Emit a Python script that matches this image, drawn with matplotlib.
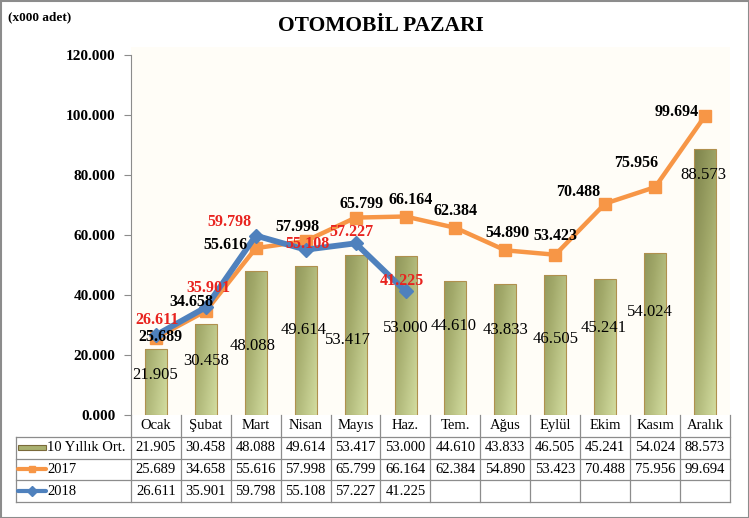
import matplotlib
matplotlib.use("Agg")
import matplotlib.pyplot as plt
import numpy as np
from matplotlib.patches import Rectangle
from matplotlib.lines import Line2D

plt.rcParams['font.family'] = ['Liberation Serif', 'DejaVu Serif']
plt.rcParams['hatch.color'] = '#e0d8b0'
plt.rcParams['hatch.linewidth'] = 1.0

aylar = ["Ocak", "Şubat", "Mart", "Nisan", "Mayıs", "Haz.", "Tem.",
         "Ağus", "Eylül", "Ekim", "Kasım", "Aralık"]
ort10 = [21905, 30458, 48088, 49614, 53417, 53000, 44610, 43833, 46505, 45241, 54024, 88573]
y2017 = [25689, 34658, 55616, 57998, 65799, 66164, 62384, 54890, 53423, 70488, 75956, 99694]
y2018 = [26611, 35901, 59798, 55108, 57227, 41225]
yticks = [0, 20000, 40000, 60000, 80000, 100000, 120000]

# hand-placed label positions (x offset in categories, y in data units)
ort_dx = [-0.02, 0.0, -0.06, -0.04, -0.16, 0.0, -0.04, 0.0, 0.0, -0.04, -0.1, -0.04]
ort_y = [13300, 18000, 23000, 28300, 25000, 29000, 29700, 28300, 25300, 29000, 34300, 80000]
l17_dx = [0.08, -0.3, -0.6, -0.16, 0.12, 0.1, 0.0, 0.04, 0.0, -0.54, -0.38, -0.56]
l17_y = [26000, 37700, 56700, 62700, 70300, 71700, 68000, 60700, 59700, 74300, 84000, 101000]
l18_dx = [0.02, 0.06, -0.52, 0.04, -0.08, -0.08]
l18_y = [31700, 42300, 64300, 57000, 61000, 44700]

def fmt(v):
    return f"{v/1000:.3f}"

fig = plt.figure(figsize=(7.49, 5.18), dpi=100)
W, H = 749, 518
ax = fig.add_axes([131/W, 1-415/H, (730-131)/W, (415-47)/H])
x = np.arange(12)
ymax = 120000*(415-47)/360
ax.set_xlim(-0.5, 11.5)
ax.set_ylim(0, ymax)

ax.add_patch(Rectangle((-0.5, 0), 12, ymax, facecolor='#fffdf7', edgecolor='none',
                       hatch='...', zorder=0))

# bars with a diagonal gradient (dark top-left, light bottom-right)
rows_f = np.linspace(0, 1, 120).reshape(-1, 1)   # 0 = bottom
cols_f = np.linspace(0, 1, 20).reshape(1, -1)    # 0 = left
Zimg = 0.62*(1 - rows_f) + 0.38*cols_f
cmap = matplotlib.colors.LinearSegmentedColormap.from_list('ol', ['#7a7f48', '#a2a96a', '#d2dc9f'])
bars = ax.bar(x, ort10, width=0.44, color='none', edgecolor='#b0904e', linewidth=0.8, zorder=2)
for b in bars:
    bx, bw = b.get_x(), b.get_width()
    im = ax.imshow(Zimg, extent=[bx, bx+bw, 0, 95000], aspect='auto', cmap=cmap,
                   origin='lower', zorder=1.9, vmin=0, vmax=1)
    im.set_clip_path(b)

ax.plot(x, y2017, color='#f79646', lw=3.2, marker='s', ms=9, zorder=3)
ax.plot(x[:len(y2018)], y2018, color='#4f81bd', lw=4.2, marker='D', ms=7, zorder=4)

for i, v in enumerate(ort10):
    ax.text(i+ort_dx[i], ort_y[i], fmt(v), ha='center', va='center', fontsize=12, zorder=5)
for i, v in enumerate(y2017):
    ax.text(i+l17_dx[i], l17_y[i], fmt(v), ha='center', va='center', fontsize=11.5,
            fontweight='bold', zorder=5)
for i, v in enumerate(y2018):
    ax.text(i+l18_dx[i], l18_y[i], fmt(v), ha='center', va='center', fontsize=11.5,
            fontweight='bold', color='#e8231f', zorder=6)

ax.set_yticks(yticks)
ax.set_yticklabels([fmt(t) for t in yticks], fontweight='bold', fontsize=11)
ax.set_xticks([])
for s in ['top', 'right', 'bottom']:
    ax.spines[s].set_visible(False)
ax.spines['left'].set_color('#8c8c8c')
ax.spines['left'].set_bounds(0, 120000)
ax.tick_params(axis='y', length=5, color='#8c8c8c', pad=6)

# data table
tx = fig.add_axes([16/W, 1-502/H, (730-16)/W, (502-415)/H])
lw = 2.3
tx.set_xlim(-0.5-lw, 11.5)
tx.set_ylim(0, 4)
tx.axis('off')
g = '#8c8c8c'
for yy in [0, 1, 2, 3]:
    tx.plot([-0.5-lw, 11.5], [yy, yy], color=g, lw=0.9, clip_on=False)
tx.plot([-0.5-lw]*2, [0, 3], color=g, lw=0.9, clip_on=False)
for k in range(13):
    tx.plot([k-0.5]*2, [0, 4], color=g, lw=0.9, clip_on=False)
for i, m in enumerate(aylar):
    tx.text(i, 3.5, m, ha='center', va='center', fontsize=10.5)
rows = [ort10, y2017, y2018]
for r, vals in enumerate(rows):
    for i, v in enumerate(vals):
        tx.text(i, 2.5-r, fmt(v), ha='center', va='center', fontsize=10.5)
names = ["10 Yıllık Ort.", "2017", "2018"]
sx0, sx1 = -0.5-lw+0.05, -0.5-lw+0.6
for r, n in enumerate(names):
    tx.text(sx1+0.02, 2.5-r, n, ha='left', va='center', fontsize=10.5)
tx.add_patch(Rectangle((sx0, 2.37), sx1-sx0, 0.26, facecolor='#a9b070', edgecolor='#7a6a3a', lw=0.8))
tx.add_line(Line2D([sx0, sx1], [1.5, 1.5], color='#f79646', lw=3, solid_capstyle='round'))
tx.plot([(sx0+sx1)/2], [1.5], marker='s', ms=5, color='#f79646')
tx.add_line(Line2D([sx0, sx1], [0.5, 0.5], color='#4f81bd', lw=3, solid_capstyle='round'))
tx.plot([(sx0+sx1)/2], [0.5], marker='D', ms=5, color='#4f81bd')

fig.text(381/W, 1-26/H, "OTOMOBİL PAZARI", ha='center', va='center', fontsize=15.5,
         fontweight='bold')
fig.text(8/W, 1-17/H, "(x000 adet)", ha='left', va='center', fontsize=9.5, fontweight='bold')
fig.add_artist(Rectangle((0.5/W, 0.5/H), 1-1/W, 1-1/H, transform=fig.transFigure,
                         fill=False, edgecolor='#8c8c8c', lw=1.5))

fig.savefig("out.png", dpi=100)
